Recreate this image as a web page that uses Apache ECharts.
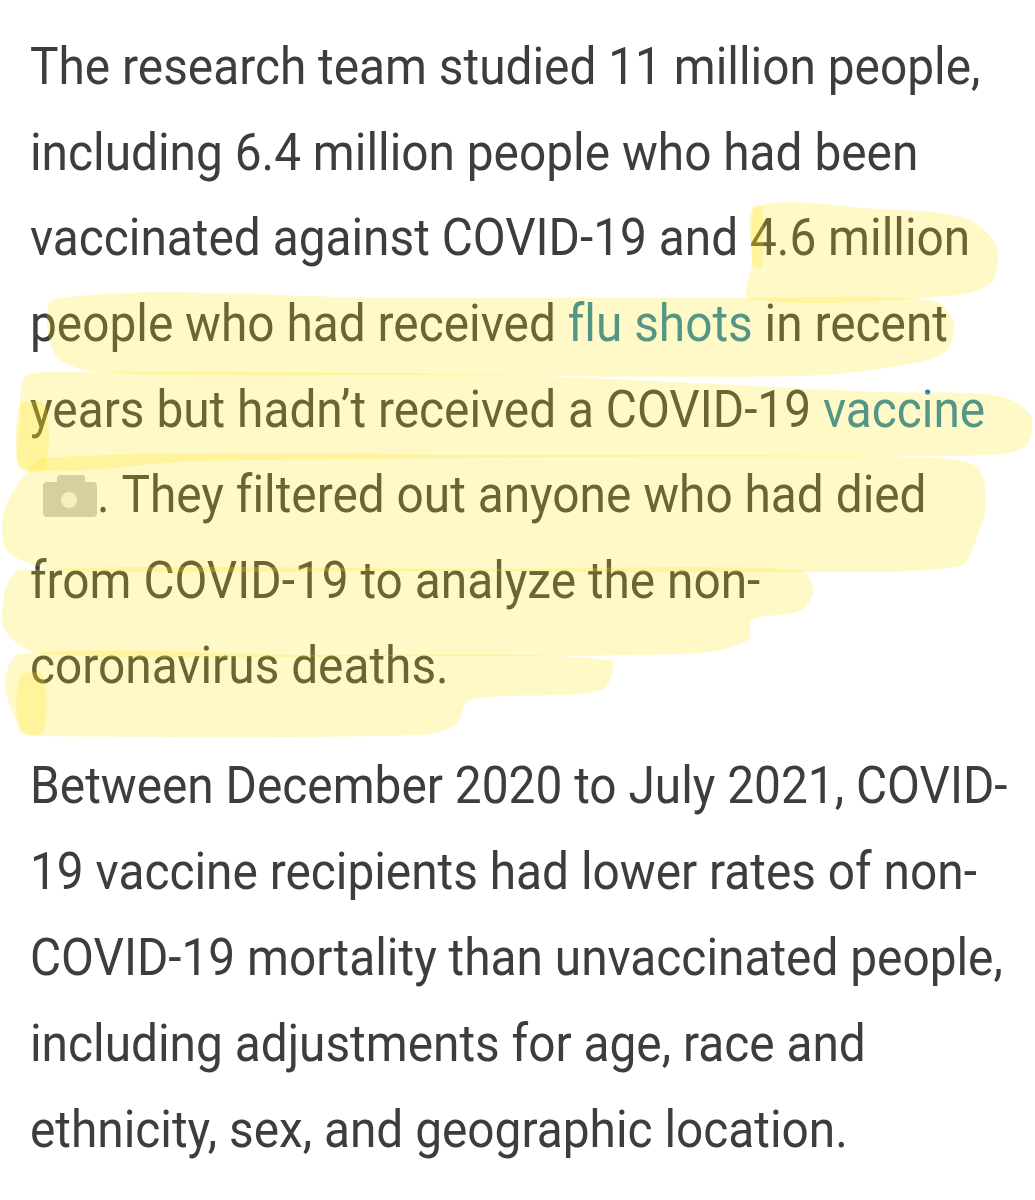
<!DOCTYPE html>
<html>
<head>
<meta charset="utf-8">
<script src="https://cdn.jsdelivr.net/npm/echarts@6/dist/echarts.min.js"></script>
<style>
  html, body { margin: 0; padding: 0; background: #fff; }
  #Article { width: 1035px; height: 1200px; }
</style>
</head>
<body>
<div id="Article"></div>
<script>
// text of the two paragraphs, one entry per screen line
// (\u200c keeps "fi"/"fl" from becoming ligatures, like the screenshot)
var para1Lines = [
  'The research team studied 11 million people,',
  'including 6.4 million people who had been',
  'vaccinated against COVID-19 and 4.6 million',
  'people who had received {link|f\u200clu shots} in recent',
  'years but hadn\u2019t received a COVID-19 {link|vaccine}',
  '{cam|\u00a0}. They f\u200ciltered out anyone who had died',
  'from COVID-19 to analyze the non-',
  'coronavirus deaths.'
];
var para2Lines = [
  'Between December 2020 to July 2021, COVID-',
  '19 vaccine recipients had lower rates of non-',
  'COVID-19 mortality than unvaccinated people,',
  'including adjustments for age, race and',
  'ethnicity, sex, and geographic location.'
];

var Article = echarts.init(document.getElementById('Article'));

var fontSize = 47.8;
var stretchY = 1.09;
var textColor = '#3d3d3d';
var linkColor = '#1e7daa';
var hlFill = 'rgba(255,230,20,0.24)';

function lineText(str, baseline) {
  return {
    type: 'text',
    z: 10,
    x: 30,
    y: baseline,
    scaleY: stretchY,
    style: {
      text: str,
      x: 0,
      y: -fontSize * 0.342,
      fontFamily: 'Roboto',
      fontSize: fontSize,
      fill: textColor,
      verticalAlign: 'middle',
      rich: {
        link: { fontFamily: 'Roboto', fontSize: fontSize, fill: linkColor },
        cam: { width: 67, fontSize: fontSize }
      }
    }
  };
}

var graphic = [];
para1Lines.forEach(function (s, i) {
  graphic.push(lineText(s, 89 + i * 85.6));
});
para2Lines.forEach(function (s, i) {
  graphic.push(lineText(s, 808 + i * 86));
});

// small camera placeholder icon before ". They filtered"
graphic.push({
  type: 'group', z: 10,
  children: [
    { type: 'rect', shape: { x: 43, y: 482, width: 54, height: 35, r: 4 }, style: { fill: '#c9c9c9' } },
    { type: 'rect', shape: { x: 57, y: 475, width: 28, height: 10, r: 3 }, style: { fill: '#c9c9c9' } },
    { type: 'circle', shape: { cx: 69, cy: 500, r: 8 }, style: { fill: '#f2f2f2' } }
  ]
});

// highlighter strokes laid over the text
var strokes = [
  [[755, 207], [880, 209], [965, 218], [996, 245], [992, 282], [950, 296], [750, 299], [752, 262]],
  [[55, 299], [400, 298], [750, 298], [932, 300], [954, 322], [945, 352], [900, 366], [800, 376], [400, 375], [100, 372], [55, 355]],
  [[24, 378], [45, 372], [500, 375], [880, 392], [1000, 396], [1031, 416], [1026, 446], [990, 455], [600, 457], [200, 461], [22, 468], [20, 420]],
  [[45, 458], [500, 455], [900, 457], [976, 466], [986, 502], [976, 540], [960, 566], [820, 572], [400, 571], [60, 570], [8, 552], [3, 515], [15, 489]],
  [[20, 570], [500, 569], [800, 570], [813, 590], [802, 610], [752, 620], [748, 640], [700, 653], [400, 656], [40, 654], [5, 630], [5, 592]],
  [[20, 654], [300, 655], [610, 660], [602, 690], [470, 700], [456, 725], [420, 735], [40, 736], [22, 730], [5, 684]],
  [[20, 405], [45, 405], [45, 468], [20, 468]],
  [[20, 676], [43, 676], [43, 732], [20, 732]],
  [[753, 207], [762, 207], [762, 266], [753, 266]]
];
strokes.forEach(function (pts) {
  graphic.push({
    type: 'polygon',
    z: 20,
    shape: { points: pts, smooth: 0.3 },
    style: { fill: hlFill }
  });
});

Article.setOption({
  backgroundColor: '#ffffff',
  animation: false,
  graphic: graphic
});
</script>
</body>
</html>
